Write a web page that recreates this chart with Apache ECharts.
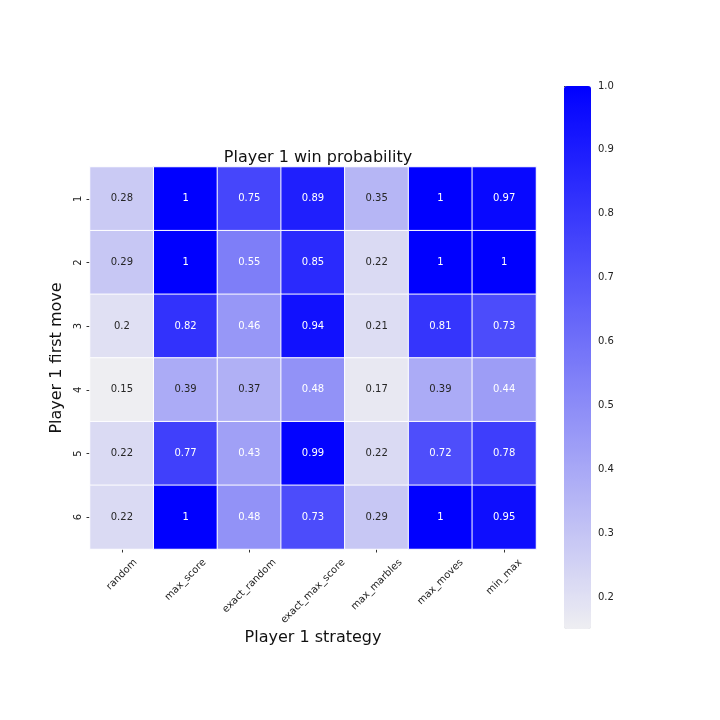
<!DOCTYPE html>
<html><head><meta charset="utf-8">
<script src="https://cdn.jsdelivr.net/npm/echarts@6/dist/echarts.min.js"></script>
<style>html,body{margin:0;padding:0;background:#fff}#c{width:720px;height:720px}</style>
</head><body><div id="c"></div>
<script>
const strategies = ['random','max_score','exact_random','exact_max_score','max_marbles','max_moves','min_max'];
const firstMoves = ['1','2','3','4','5','6'];
const row1 = [0.28,1,0.75,0.89,0.35,1,0.97];
const row2 = [0.29,1,0.55,0.85,0.22,1,1];
const row3 = [0.2,0.82,0.46,0.94,0.21,0.81,0.73];
const row4 = [0.15,0.39,0.37,0.48,0.17,0.39,0.44];
const row5 = [0.22,0.77,0.43,0.99,0.22,0.72,0.78];
const row6 = [0.22,1,0.48,0.73,0.29,1,0.95];
const rows = [row1,row2,row3,row4,row5,row6];
const colorbarTicks = [0.2,0.3,0.4,0.5,0.6,0.7,0.8,0.9,1.0];
const vmin = 0.15, vmax = 1.0;

const data = [];
rows.forEach((r, i) => r.forEach((v, j) => {
  data.push({value: [j, i, v], label: {color: v > 0.4 ? '#ffffff' : '#262626'}});
}));

const FONT = 'DejaVu Sans';
const chart = echarts.init(document.getElementById('c'));
chart.setOption({
  backgroundColor: '#fff',
  animation: false,
  title: {text: 'Player 1 win probability', left: 313, top: 145, textAlign: 'center',
    textStyle: {fontFamily: FONT, fontSize: 16, fontWeight: 'normal', color: '#111'}},
  grid: [
    {left: 90, right: 184, top: 167, bottom: 171},
    {left: 564, width: 27, top: 86, height: 543}
  ],
  xAxis: [
    {type: 'category', gridIndex: 0, data: strategies, name: 'Player 1 strategy', nameLocation: 'middle', nameGap: 81,
      nameTextStyle: {fontFamily: FONT, fontSize: 16, color: '#111'},
      axisLine: {show: false}, axisTick: {show: true, alignWithLabel: true, length: 3.5, lineStyle: {color: '#333'}},
      axisLabel: {show: false},
      splitLine: {show: false}},
    {type: 'value', gridIndex: 1, show: false, min: 0, max: 1}
  ],
  yAxis: [
    {type: 'category', gridIndex: 0, data: firstMoves, inverse: true, name: 'Player 1 first move', nameLocation: 'middle', nameGap: 22,
      nameTextStyle: {fontFamily: FONT, fontSize: 16, color: '#111'},
      axisLine: {show: false}, axisTick: {show: true, alignWithLabel: true, length: 3.5, lineStyle: {color: '#333'}},
      axisLabel: {rotate: 90, fontFamily: FONT, fontSize: 10, color: '#222', margin: 7},
      splitLine: {show: false}},
    {type: 'value', gridIndex: 1, position: 'right', min: vmin, max: vmax,
      axisLine: {show: false}, splitLine: {show: false},
      axisTick: {show: true, length: 3.5, lineStyle: {color: '#333'}, customValues: colorbarTicks},
      axisLabel: {fontFamily: FONT, fontSize: 10, color: '#222', margin: 7, customValues: colorbarTicks,
        formatter: v => v.toFixed(1)}}
  ],
  visualMap: {
    type: 'continuous', min: vmin, max: vmax, seriesIndex: 0, calculable: false,
    orient: 'vertical', left: 564, top: 86, itemWidth: 27, itemHeight: 543, padding: 0,
    text: null, showLabel: false,
    inRange: {color: ['#eeeef2', '#0000ff']}
  },
  series: [{
    type: 'heatmap', xAxisIndex: 0, yAxisIndex: 0, data: data,
    itemStyle: {borderColor: '#ffffff', borderWidth: 1},
    label: {show: true, fontFamily: FONT, fontSize: 10, formatter: p => String(p.value[2])},
    emphasis: {disabled: true}
  }]
});

// rotated x tick labels, centred under each tick (matplotlib rotation=45, ha='center')
const ctx = document.createElement('canvas').getContext('2d');
ctx.font = '10px "' + FONT + '"';
const gridBottom = chart.convertToPixel({yAxisIndex: 0}, firstMoves.length - 1) + (chart.convertToPixel({yAxisIndex: 0}, 1) - chart.convertToPixel({yAxisIndex: 0}, 0)) / 2;
const s = Math.SQRT1_2;
const labels = strategies.map((name, j) => {
  const x = chart.convertToPixel({xAxisIndex: 0}, j);
  const w = ctx.measureText(name).width, h = 11;
  const ext = (w + h) * s;
  return {type: 'text', x: x, y: gridBottom + 8 + ext / 2, rotation: Math.PI / 4, silent: true,
    style: {text: name, font: '10px "' + FONT + '"', fill: '#222', align: 'center', verticalAlign: 'middle'}};
});
chart.setOption({graphic: labels});
</script></body></html>
